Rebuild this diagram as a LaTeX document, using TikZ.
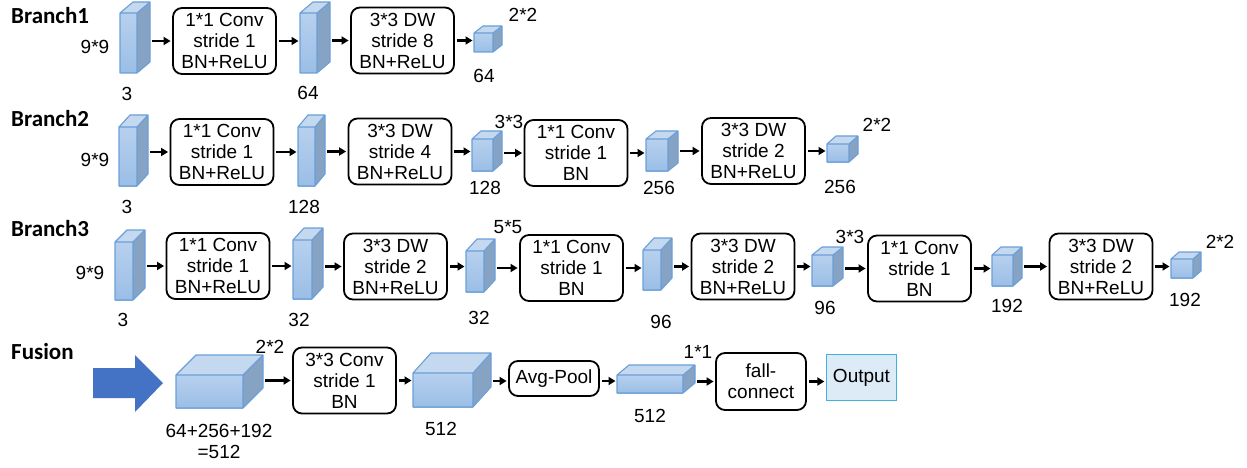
\documentclass[tikz,border=0pt]{standalone}
\usepackage{fontspec}
\setmainfont{Liberation Sans}
\newfontfamily\labfont{Carlito}
\usetikzlibrary{arrows.meta,fit,calc}
\definecolor{cfa}{HTML}{B7D0EE}
\definecolor{cfb}{HTML}{9BBEE6}
\definecolor{ctop}{HTML}{C4D8F0}
\definecolor{cside}{HTML}{86A3C4}
\definecolor{cedge}{HTML}{6A9FD8}
\definecolor{bigarrow}{HTML}{4472C4}
\definecolor{outf}{HTML}{DDEBF7}
\definecolor{outd}{HTML}{3EB0E2}
\newcommand\cub[7]{%
 \shade[top color=cfa, bottom color=cfb] (#2,#3) rectangle (#4,#5);
 \fill[ctop] (#2,#3) -- ({#2+#6},{#3-#7}) -- ({#4+#6},{#3-#7}) -- (#4,#3) -- cycle;
 \fill[cside] (#4,#3) -- ({#4+#6},{#3-#7}) -- ({#4+#6},{#5-#7}) -- (#4,#5) -- cycle;
 \draw[cedgeline] (#2,#3) rectangle (#4,#5)
   (#2,#3) -- ({#2+#6},{#3-#7}) -- ({#4+#6},{#3-#7}) -- ({#4+#6},{#5-#7}) -- (#4,#5)
   (#4,#3) -- ({#4+#6},{#3-#7});
 \node[fit={(#2,{#3-#7}) ({#4+#6},#5)}, inner sep=0pt, outer sep=0pt] (#1) {};
}
\tikzset{
 box/.style={draw, line width=1.8pt, rounded corners=9pt, minimum width=103pt,
   minimum height=66pt, align=center, inner sep=0pt},
 arr/.style={line width=2.4pt, -{Triangle[length=7pt,width=8pt]}, shorten <=2pt, shorten >=1.5pt},
 cedgeline/.style={draw=cedge, line width=1.1pt, line join=round},
 rowlab/.style={anchor=west, inner sep=0pt, font=\labfont\bfseries\fontsize{23}{26}\selectfont},
 lab/.style={inner sep=0pt},
}
\begin{document}
\begin{tikzpicture}[x=1pt, y=-1pt, font=\fontsize{19}{21}\selectfont]
\useasboundingbox (0,0) rectangle (1247,468);

% ---------------- Branch1 ----------------
\node[rowlab] (r1) at (11,16) {Branch1};
\cub{c11}{120}{13}{137}{73}{13}{11}
\node[box] (b11) at (224.5,41) {1*1 Conv\\stride 1\\BN+ReLU};
\cub{c12}{300}{13}{317}{73}{13}{11}
\node[box] (b12) at (402.5,40.5) {3*3 DW\\stride 8\\BN+ReLU};
\cub{c13}{474}{33}{493}{52}{9}{7}
\node[lab] (l11) at (95,47) {9*9};
\node[lab] (l12) at (127,94) {3};
\node[lab] (l13) at (308,93) {64};
\node[lab] (l14) at (523,15) {2*2};
\node[lab] (l15) at (484,76) {64};
\draw[arr] (c11.east |- b11) -- (b11.west);
\draw[arr] (b11.east) -- (b11.east -| c12.west);
\draw[arr] (c12.east |- b12) -- (b12.west);
\draw[arr] (b12.east) -- (b12.east -| c13.west);

% ---------------- Branch2 ----------------
\node[rowlab] (r2) at (11,119) {Branch2};
\cub{c21}{119}{127}{137}{186}{11}{12}
\node[box] (b21) at (222,152) {1*1 Conv\\stride 1\\BN+ReLU};
\cub{c22}{298}{127}{315}{186}{10}{12}
\node[box] (b22) at (400,151.5) {3*3 DW\\stride 4\\BN+ReLU};
\cub{c23}{472}{139}{493}{171}{9}{8}
\node[box] (b23) at (576,153) {1*1 Conv\\stride 1\\BN};
\cub{c24}{646}{139}{668}{171}{10}{8}
\node[box] (b24) at (753.5,151) {3*3 DW\\stride 2\\BN+ReLU};
\cub{c25}{827}{144}{849}{162}{9}{8}
\node[lab] (l21) at (95,160) {9*9};
\node[lab] (l22) at (127,207) {3};
\node[lab] (l23) at (304,207) {128};
\node[lab] (l24) at (509,122) {3*3};
\node[lab] (l25) at (485,188) {128};
\node[lab] (l26) at (659,188) {256};
\node[lab] (l27) at (877,125) {2*2};
\node[lab] (l28) at (840,187) {256};
\draw[arr] (c21.east |- b21) -- (b21.west);
\draw[arr] (b21.east) -- (b21.east -| c22.west);
\draw[arr] (c22.east |- b22) -- (b22.west);
\draw[arr] (b22.east) -- (b22.east -| c23.west);
\draw[arr] (c23.east |- b23) -- (b23.west);
\draw[arr] (b23.east) -- (b23.east -| c24.west);
\draw[arr] (c24.east |- b24) -- (b24.west);
\draw[arr] (b24.east) -- (b24.east -| c25.west);

% ---------------- Branch3 ----------------
\node[rowlab] (r3) at (11,229) {Branch3};
\cub{c31}{115}{242}{133}{300}{12}{12}
\node[box] (b31) at (218,266) {1*1 Conv\\stride 1\\BN+ReLU};
\cub{c32}{293}{240}{312}{299}{11}{12}
\node[box] (b32) at (395.5,266.5) {3*3 DW\\stride 2\\BN+ReLU};
\cub{c33}{466}{251}{484}{292}{11}{12}
\node[box] (b33) at (571.5,268) {1*1 Conv\\stride 1\\BN};
\cub{c34}{643}{250}{661}{290}{11}{12}
\node[box] (b34) at (743,266.5) {3*3 DW\\stride 2\\BN+ReLU};
\cub{c35}{812}{255}{833}{286}{10}{8}
\node[box] (b35) at (919.5,268.5) {1*1 Conv\\stride 1\\BN};
\cub{c36}{992}{255}{1013}{286}{9}{8}
\node[box] (b36) at (1101,266.5) {3*3 DW\\stride 2\\BN+ReLU};
\cub{c37}{1171}{259}{1193}{278}{8}{7}
\node[lab] (l31) at (90,273) {9*9};
\node[lab] (l32) at (123,320) {3};
\node[lab] (l33) at (299,320) {32};
\node[lab] (l34) at (508,227) {5*5};
\node[lab] (l35) at (479,318) {32};
\node[lab] (l36) at (661,322) {96};
\node[lab] (l37) at (850,237) {3*3};
\node[lab] (l38) at (825,308) {96};
\node[lab] (l39) at (1007,306) {192};
\node[lab] (l3a) at (1220,242) {2*2};
\node[lab] (l3b) at (1185,300) {192};
\draw[arr] (c31.east |- b31) -- (b31.west);
\draw[arr] (b31.east) -- (b31.east -| c32.west);
\draw[arr] (c32.east |- b32) -- (b32.west);
\draw[arr] (b32.east) -- (b32.east -| c33.west);
\draw[arr] (c33.east |- b33) -- (b33.west);
\draw[arr] (b33.east) -- (b33.east -| c34.west);
\draw[arr] (c34.east |- b34) -- (b34.west);
\draw[arr] (b34.east) -- (b34.east -| c35.west);
\draw[arr] (c35.east |- b35) -- (b35.west);
\draw[arr] (b35.east) -- (b35.east -| c36.west);
\draw[arr] (c36.east |- b36) -- (b36.west);
\draw[arr] (b36.east) -- (b36.east -| c37.west);

% ---------------- Fusion ----------------
\node[rowlab] (r4) at (11,352) {Fusion};
\fill[bigarrow] (93,368) -- (135,368) -- (135,355) -- (163,383) -- (135,412) -- (135,398) -- (93,398) -- cycle;
\cub{f1}{176}{375}{243}{408}{20}{20}
\node[box] (fb1) at (344.5,380.5) {3*3 Conv\\stride 1\\BN};
\cub{f2}{413}{373}{473}{407}{18}{20}
\node[box, minimum width=90pt, minimum height=35pt] (fb2) at (554,378.5) {Avg-Pool};
\cub{f3}{617}{375}{683}{393}{12}{10}
\node[box, minimum width=90pt, minimum height=57pt] (fb3) at (761,381.5) {fall-\\connect};
\node[draw=outd, fill=outf, line width=1.3pt, minimum width=70pt, minimum height=46pt, inner sep=0pt] (out) at (861.5,377.5) {Output};
\node[lab] (l41) at (270,347) {2*2};
\node[lab, align=center] (l42) at (219,441) {64+256+192\\=512};
\node[lab] (l43) at (441,429) {512};
\node[lab] (l44) at (650,416) {512};
\node[lab] (l45) at (698,352) {1*1};
\draw[arr] (f1.east |- fb1) -- (fb1.west);
\draw[arr] (fb1.east) -- (fb1.east -| f2.west);
\draw[arr] (f2.east |- 0,381) -- (fb2.west |- 0,381);
\draw[arr] (fb2.east |- 0,381) -- (f3.west |- 0,381);
\draw[arr] (f3.east |- fb3) -- (fb3.west);
\draw[arr] (fb3.east) -- (fb3.east -| out.west);
\end{tikzpicture}
\end{document}
